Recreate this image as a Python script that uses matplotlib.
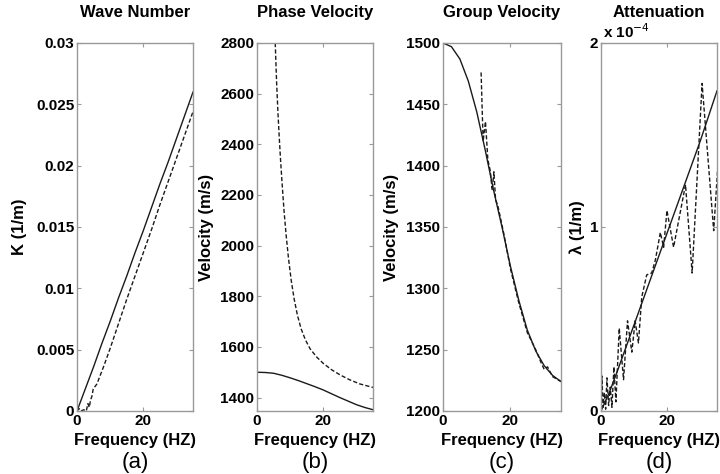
import matplotlib.pyplot as plt
from matplotlib.ticker import FixedLocator, FixedFormatter

plt.rcParams['font.family'] = ['Liberation Sans', 'DejaVu Sans']

# (a) wave number
freq_solid = [0, 2.5, 5, 7.5, 10, 12.5, 15, 17.5, 20, 22.5, 25, 27.5, 30, 32.5, 35]
k_solid = [0, 0.0018, 0.0036, 0.0055, 0.0073, 0.0092, 0.0110, 0.0129, 0.0147,
           0.0166, 0.0185, 0.0203, 0.0222, 0.0241, 0.0260]
freq_k_dash = [0, 0.6, 1.2, 2.0, 2.8, 3.3, 3.7, 4.1, 4.5, 4.9, 6, 8, 10, 12.5, 15,
               17.5, 20, 22.5, 25, 27.5, 30, 32.5, 35]
k_dash = [0, 0.0002, 0.0, 0.0001, 0.0, 0.0006, 0.0003, 0.0009, 0.0012, 0.0018,
          0.0022, 0.0036, 0.0051, 0.0071, 0.0091, 0.0110, 0.0129, 0.0148, 0.0168,
          0.0187, 0.0206, 0.0225, 0.0244]

# (b) phase velocity
vph_solid = [1500, 1499, 1496, 1488, 1478, 1467, 1455, 1443, 1430, 1415, 1400,
             1386, 1372, 1361, 1352]
freq_ph_dash = [5.5, 5.9, 6.3, 6.7, 7.1, 7.6, 8.2, 8.8, 9.5, 10.3, 11.2, 12.2,
                13.3, 14.6, 16, 18, 20, 22.5, 25, 28, 31, 35]
vph_dash = [2800, 2650, 2530, 2430, 2340, 2240, 2130, 2040, 1950, 1865, 1790,
            1725, 1672, 1628, 1593, 1560, 1535, 1510, 1490, 1470, 1454, 1440]

# (c) group velocity
vgr_solid = [1500, 1497, 1487, 1469, 1444, 1413, 1380, 1350, 1318, 1290, 1266,
             1249, 1237, 1229, 1224]
freq_gr_dash = [11.3, 11.9, 12.6, 13.3, 14.0, 14.6, 15.1, 15.6, 16.2, 17, 18, 20,
                22.5, 25, 27.5, 29, 30, 31, 32.5, 35]
vgr_dash = [1476, 1420, 1436, 1405, 1396, 1380, 1395, 1372, 1368, 1358, 1345,
            1316, 1288, 1264, 1250, 1240, 1234, 1236, 1228, 1224]

# (d) attenuation, in units of 1e-4
att_solid = [0, 0.10, 0.22, 0.345, 0.47, 0.595, 0.72, 0.845, 0.97, 1.095, 1.22,
             1.345, 1.47, 1.605, 1.74]
freq_att_dash = [0, 0.3, 0.6, 1.0, 1.4, 1.8, 2.3, 2.8, 3.3, 3.9, 4.5, 5.5, 6.8, 8.0,
                 9.3, 10.3, 11.3, 12.3, 13.8, 15.3, 16.4, 17.9, 18.9, 19.9, 21.9,
                 25.5, 27.5, 30.5, 34.0, 35.5]
att_dash = [0.0, 0.19, 0.02, 0.10, 0.01, 0.18, 0.03, 0.13, 0.02, 0.24, 0.05, 0.45,
            0.17, 0.49, 0.32, 0.49, 0.37, 0.62, 0.74, 0.75, 0.82, 0.97, 0.89, 1.09,
            0.89, 1.23, 0.75, 1.78, 0.98, 1.40]

titles = ['Wave Number', 'Phase Velocity', 'Group Velocity', 'Attenuation']
ylabels = ['K (1/m)', 'Velocity (m/s)', 'Velocity (m/s)', 'λ (1/m)']
letters = ['(a)', '(b)', '(c)', '(d)']
yticks = [[0, 0.005, 0.01, 0.015, 0.02, 0.025, 0.03],
          [1400, 1600, 1800, 2000, 2200, 2400, 2600, 2800],
          [1200, 1250, 1300, 1350, 1400, 1450, 1500],
          [0, 1, 2]]
yticklabels = [['0', '0.005', '0.01', '0.015', '0.02', '0.025', '0.03'],
               [str(t) for t in yticks[1]],
               [str(t) for t in yticks[2]],
               ['0', '1', '2']]
ylims = [(0, 0.03), (1347, 2800), (1200, 1500), (0, 2)]

fig = plt.figure(figsize=(7.2, 4.74), dpi=100)
W, H = 720, 474
lefts = [77, 257, 443, 601]
widths = [116, 116, 118, 116]
ylabel_x = [-0.43, -0.37, -0.373, -0.138]

axes = []
for i in range(4):
    ax = fig.add_axes([lefts[i] / W, 1 - 411 / H, widths[i] / W, 368 / H])
    axes.append(ax)

dash = (0, (3, 1.6))
lc = '#1a1a1a'
axes[0].plot(freq_solid, k_solid, color=lc, lw=1.0)
axes[0].plot(freq_k_dash, k_dash, color=lc, lw=1.0, linestyle=dash)
axes[1].plot(freq_solid, vph_solid, color=lc, lw=1.0)
axes[1].plot(freq_ph_dash, vph_dash, color=lc, lw=1.0, linestyle=dash)
axes[2].plot(freq_solid, vgr_solid, color=lc, lw=1.0)
axes[2].plot(freq_gr_dash, vgr_dash, color=lc, lw=1.0, linestyle=dash)
axes[3].plot(freq_solid, att_solid, color=lc, lw=1.0)
axes[3].plot(freq_att_dash, att_dash, color=lc, lw=1.0, linestyle=dash)

for i, ax in enumerate(axes):
    ax.set_xlim(0, 35)
    ax.set_ylim(*ylims[i])
    ax.xaxis.set_major_locator(FixedLocator([0, 20]))
    ax.xaxis.set_major_formatter(FixedFormatter(['0', '20']))
    ax.yaxis.set_major_locator(FixedLocator(yticks[i]))
    ax.yaxis.set_major_formatter(FixedFormatter(yticklabels[i]))
    ax.tick_params(direction='in', top=True, right=True, length=3, width=0.8,
                   color='#999999', labelsize=11, pad=2)
    for lab in ax.get_xticklabels() + ax.get_yticklabels():
        lab.set_fontweight('bold')
    for s in ax.spines.values():
        s.set_color('#999999')
        s.set_linewidth(1.0)
    ax.set_ylabel(ylabels[i], fontsize=12, fontweight='bold')
    ax.yaxis.set_label_coords(ylabel_x[i], 0.5)
    ax.text(0.5, 1.082, titles[i], transform=ax.transAxes, ha='center',
            va='center', fontsize=12, fontweight='bold')
    ax.text(0.5, -0.079, 'Frequency (HZ)', transform=ax.transAxes, ha='center',
            va='center', fontsize=12, fontweight='bold')
    ax.text(0.5, -0.139, letters[i], transform=ax.transAxes, ha='center',
            va='center', fontsize=16)

# exponent for the attenuation axis
axes[3].text(0.02, 1.005, r'x 10$^{-4}$', transform=axes[3].transAxes, ha='left',
             va='bottom', fontsize=11, fontweight='bold')

fig.savefig('out.png', dpi=100)
